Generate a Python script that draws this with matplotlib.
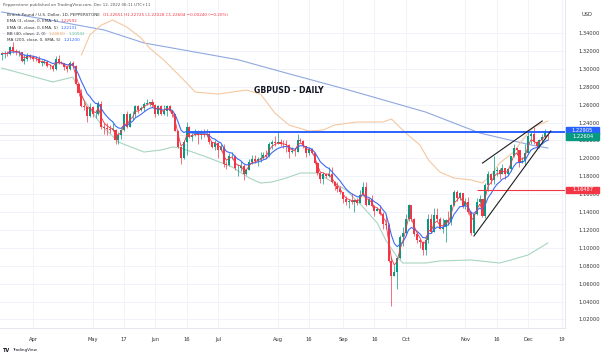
import numpy as np
import pandas as pd
import matplotlib.pyplot as plt
from matplotlib.patches import Rectangle
from matplotlib.transforms import blended_transform_factory

# GBPUSD daily bars (weekdays), 17 Mar 2022 -> 12 Dec 2022
start, end = '2022-03-17', '2022-12-12'

close = [
    1.3170, 1.3175, 1.3170, 1.3240, 1.3195, 1.3185, 1.3185, 1.3090, 1.3110, 1.3140, 1.3135,  # Mar
    1.3115, 1.3110, 1.3070, 1.3070, 1.3075, 1.3035, 1.3030, 1.3000, 1.3110, 1.3070, 1.3065,
    1.3015, 1.3000, 1.3070, 1.3030, 1.2835, 1.2725, 1.2585, 1.2575, 1.2475, 1.2570,          # Apr
    1.2490, 1.2495, 1.2610, 1.2355, 1.2335, 1.2330, 1.2320, 1.2320, 1.2200, 1.2260, 1.2315,
    1.2490, 1.2345, 1.2490, 1.2490, 1.2590, 1.2535, 1.2565, 1.2605, 1.2620, 1.2625, 1.2600,  # May
    1.2490, 1.2585, 1.2490, 1.2530, 1.2590, 1.2530, 1.2495, 1.2310, 1.2130, 1.2005, 1.2185,
    1.2350, 1.2235, 1.2265, 1.2275, 1.2260, 1.2270, 1.2265, 1.2270, 1.2185, 1.2125, 1.2175,  # Jun
    1.2095, 1.2125, 1.1940, 1.1920, 1.2025, 1.2030, 1.1890, 1.1890, 1.1915, 1.1825, 1.1870,
    1.1960, 1.1990, 1.1965, 1.1995, 1.2000, 1.2035, 1.2030, 1.2160, 1.2180, 1.2175,          # Jul
    1.2180, 1.2165, 1.2155, 1.2150, 1.2075, 1.2075, 1.2070, 1.2210, 1.2195, 1.2135, 1.2055,
    1.2100, 1.2060, 1.1945, 1.1835, 1.1765, 1.1830, 1.1805, 1.1830, 1.1735, 1.1690, 1.1655,
    1.1620,                                                                                  # Aug
    1.1540, 1.1515, 1.1525, 1.1515, 1.1530, 1.1505, 1.1585, 1.1680, 1.1480, 1.1540, 1.1470,
    1.1415, 1.1430, 1.1380, 1.1265, 1.1255, 1.0855, 1.0685, 1.0735, 1.0890, 1.1120, 1.1160,  # Sep
    1.1320, 1.1475, 1.1320, 1.1155, 1.1090, 1.1060, 1.0970, 1.1090, 1.1325, 1.1175, 1.1365,
    1.1320, 1.1210, 1.1235, 1.1310, 1.1285, 1.1475, 1.1620, 1.1560, 1.1615, 1.1465,          # Oct
    1.1510, 1.1395, 1.1160, 1.1375, 1.1515, 1.1545, 1.1355, 1.1705, 1.1830, 1.1760, 1.1855,
    1.1865, 1.1825, 1.1890, 1.1820, 1.1880, 1.2030, 1.2115, 1.2090, 1.1960, 1.1965, 1.2055,  # Nov
    1.2250, 1.2275, 1.2185, 1.2140, 1.2205, 1.2240, 1.2284, 1.2260,                          # Dec
]
high = [
    1.3185, 1.3200, 1.3200, 1.3250, 1.3300, 1.3225, 1.3215, 1.3190, 1.3165, 1.3175, 1.3170,
    1.3150, 1.3145, 1.3140, 1.3095, 1.3110, 1.3095, 1.3055, 1.3040, 1.3145, 1.3150, 1.3085,
    1.3060, 1.3030, 1.3090, 1.3090, 1.3045, 1.2845, 1.2775, 1.2625, 1.2580, 1.2615,
    1.2580, 1.2540, 1.2640, 1.2640, 1.2400, 1.2400, 1.2370, 1.2405, 1.2325, 1.2295, 1.2330,
    1.2500, 1.2525, 1.2510, 1.2525, 1.2600, 1.2600, 1.2590, 1.2625, 1.2665, 1.2630, 1.2665,
    1.2610, 1.2595, 1.2600, 1.2600, 1.2600, 1.2600, 1.2545, 1.2500, 1.2320, 1.2140, 1.2205,
    1.2405, 1.2360, 1.2285, 1.2325, 1.2320, 1.2315, 1.2325, 1.2330, 1.2290, 1.2185, 1.2200,
    1.2180, 1.2165, 1.2165, 1.1970, 1.2060, 1.2075, 1.2040, 1.1935, 1.1970, 1.1935, 1.1880,
    1.1990, 1.2035, 1.2040, 1.2010, 1.2065, 1.2065, 1.2090, 1.2180, 1.2200, 1.2245,
    1.2295, 1.2215, 1.2200, 1.2205, 1.2165, 1.2125, 1.2115, 1.2275, 1.2230, 1.2205, 1.2135,
    1.2125, 1.2120, 1.2065, 1.1960, 1.1840, 1.1850, 1.1840, 1.1900, 1.1900, 1.1750, 1.1730,
    1.1690,
    1.1620, 1.1575, 1.1550, 1.1610, 1.1540, 1.1560, 1.1650, 1.1735, 1.1740, 1.1560, 1.1595,
    1.1480, 1.1455, 1.1475, 1.1395, 1.1360, 1.1275, 1.0900, 1.0810, 1.0895, 1.1140, 1.1235,
    1.1380, 1.1495, 1.1475, 1.1335, 1.1180, 1.1110, 1.1075, 1.1115, 1.1380, 1.1380, 1.1440,
    1.1440, 1.1340, 1.1335, 1.1320, 1.1410, 1.1490, 1.1645, 1.1645, 1.1620, 1.1615,
    1.1555, 1.1565, 1.1410, 1.1380, 1.1555, 1.1590, 1.1550, 1.1720, 1.1855, 1.1830, 1.2030,
    1.1905, 1.1895, 1.1940, 1.1895, 1.1890, 1.2030, 1.2155, 1.2120, 1.2090, 1.2010, 1.2155,
    1.2310, 1.2310, 1.2345, 1.2195, 1.2220, 1.2270, 1.2325, 1.2273,
]
low = [
    1.3100, 1.3125, 1.3140, 1.3160, 1.3180, 1.3150, 1.3140, 1.3075, 1.3050, 1.3090, 1.3110,
    1.3085, 1.3090, 1.3060, 1.3030, 1.3050, 1.3015, 1.3000, 1.2975, 1.2985, 1.3055, 1.3050,
    1.2990, 1.2970, 1.2990, 1.3015, 1.2825, 1.2700, 1.2575, 1.2540, 1.2410, 1.2460,
    1.2460, 1.2445, 1.2480, 1.2330, 1.2275, 1.2260, 1.2280, 1.2300, 1.2165, 1.2155, 1.2215,
    1.2310, 1.2340, 1.2345, 1.2425, 1.2460, 1.2510, 1.2525, 1.2525, 1.2600, 1.2580, 1.2575,
    1.2460, 1.2480, 1.2480, 1.2480, 1.2470, 1.2520, 1.2460, 1.2300, 1.2110, 1.1935, 1.1990,
    1.2040, 1.2225, 1.2195, 1.2250, 1.2160, 1.2220, 1.2240, 1.2240, 1.2160, 1.2110, 1.2090,
    1.2000, 1.2080, 1.1900, 1.1880, 1.1915, 1.1990, 1.1875, 1.1805, 1.1855, 1.1760, 1.1810,
    1.1870, 1.1935, 1.1945, 1.1915, 1.1955, 1.1995, 1.2005, 1.2015, 1.2100, 1.2135,
    1.2165, 1.2140, 1.2120, 1.2065, 1.2005, 1.2055, 1.2030, 1.2070, 1.2170, 1.2110, 1.2015,
    1.2040, 1.2045, 1.1935, 1.1815, 1.1720, 1.1715, 1.1780, 1.1790, 1.1720, 1.1645, 1.1620,
    1.1600,
    1.1500, 1.1475, 1.1445, 1.1485, 1.1405, 1.1475, 1.1500, 1.1580, 1.1470, 1.1475, 1.1460,
    1.1350, 1.1410, 1.1365, 1.1215, 1.1210, 1.0840, 1.0350, 1.0680, 1.0540, 1.0880, 1.1025,
    1.1145, 1.1305, 1.1300, 1.1130, 1.1055, 1.1000, 1.0925, 1.0925, 1.1055, 1.1170, 1.1175,
    1.1300, 1.1205, 1.1170, 1.1060, 1.1255, 1.1255, 1.1465, 1.1525, 1.1535, 1.1445,
    1.1430, 1.1380, 1.1145, 1.1150, 1.1370, 1.1480, 1.1345, 1.1335, 1.1630, 1.1710, 1.1710,
    1.1800, 1.1765, 1.1825, 1.1765, 1.1815, 1.1860, 1.2015, 1.2035, 1.1900, 1.1950, 1.1910,
    1.2045, 1.2165, 1.2155, 1.2105, 1.2110, 1.2185, 1.2215, 1.2203,
]
first_open = 1.3155
last_open = 1.22651   # Monday gap open

# traced indicator lines (bar number from 17 Mar, price)
bb_upper_bar = [28, 31, 35, 39, 44, 49, 52, 57, 64, 68, 76, 86, 91, 96, 101, 108, 113,
                117, 125, 134, 137, 142, 147, 150, 154, 159, 165, 169, 172, 175, 180, 183, 187, 192]
bb_upper = [1.3154, 1.3378, 1.3489, 1.3545, 1.3467, 1.3344, 1.3232, 1.3098, 1.2875, 1.2741,
            1.2718, 1.2763, 1.2718, 1.2506, 1.2372, 1.2305, 1.2316, 1.2372, 1.2406, 1.2406,
            1.2439, 1.2283, 1.2149, 1.1981, 1.1847, 1.1780, 1.1758, 1.1724, 1.1813, 1.1947,
            1.2070, 1.2204, 1.2350, 1.2417]
bb_lower_bar = [0, 18, 25, 29, 35, 41, 50, 56, 60, 63, 72, 81, 87, 91, 95, 100, 105, 111,
                115, 121, 127, 132, 135, 139, 141, 149, 154, 165, 175, 179, 185, 192]
bb_lower = [1.3009, 1.2853, 1.2908, 1.2651, 1.2372, 1.2182, 1.2070, 1.2093, 1.2126, 1.2115,
            1.2015, 1.1903, 1.1780, 1.1724, 1.1735, 1.1780, 1.1836, 1.1836, 1.1758, 1.1646,
            1.1456, 1.1277, 1.1087, 1.0897, 1.0830, 1.0830, 1.0853, 1.0864, 1.0830, 1.0864,
            1.0920, 1.1054]
ma200_bar = [0, 17, 36, 50, 83, 100, 122, 149, 168, 186, 192]
ma200 = [1.3635, 1.3545, 1.3434, 1.3289, 1.3102, 1.2953, 1.2763, 1.2517, 1.2283, 1.2149, 1.2115]

# drawings
res_level = 1.22905
res_from = '2022-06-16'
sup_level = 1.16487
sup_from = '2022-11-07'
last_price = 1.22604
wedge_top = ([169, 190], [1.1947, 1.2417])
wedge_bot = ([166, 193], [1.1132, 1.2305])

tick_dates = ['2022-04-01', '2022-05-02', '2022-05-17', '2022-06-01', '2022-06-16',
              '2022-07-01', '2022-08-01', '2022-08-16', '2022-09-01', '2022-09-16',
              '2022-10-03', '2022-11-01', '2022-11-16', '2022-12-01', '2022-12-19']
tick_text = ['Apr', 'May', '17', 'Jun', '16', 'Jul', 'Aug', '16', 'Sep', '16', 'Oct',
             'Nov', '16', 'Dec', '19']

UP, DOWN = '#089981', '#f23645'
GREY = '#333333'

close = np.array(close)
high = np.array(high)
low = np.array(low)
opn = np.r_[first_open, close[:-1]]   # FX bars open at the previous close
opn[-1] = last_open
x = np.arange(len(close))

def bar_of(d):
    return np.busday_count(start, d)

ema3 = pd.Series(close).ewm(span=3, adjust=False).mean()
ema8 = pd.Series(close).ewm(span=8, adjust=False).mean()

W, H = 602, 356
fig = plt.figure(figsize=(W / 100, H / 100), dpi=100)
ax = fig.add_axes([0, 1 - 328 / H, 565 / W, 328 / H])
ax.set_xlim(-0.6, 198)
ax.set_ylim(1.0104, 1.3769)

# grid
yt = np.arange(1.02, 1.345, 0.02)
xt = [bar_of(d) for d in tick_dates]
for v in yt:
    ax.axhline(v, color='#f0f3fa', lw=0.7, zorder=0)
for v in xt:
    ax.axvline(v, color='#f0f3fa', lw=0.7, zorder=0)

# indicator lines
ax.plot(ma200_bar, ma200, color='#8fa8e0', lw=0.8, zorder=1)
ax.plot(bb_upper_bar, bb_upper, color='#f5c8a0', lw=0.8, zorder=1)
ax.plot(bb_lower_bar, bb_lower, color='#a8d5c0', lw=0.8, zorder=1)

# current price line (left part, the ray covers the rest)
ax.hlines(last_price, -1, bar_of(res_from), color='#d5d8df', lw=0.5, zorder=1)

# candles
up = close >= opn
col = np.where(up, UP, DOWN)
ax.vlines(x, low, high, colors=col, lw=0.5, zorder=2)
body_lo = np.minimum(opn, close)
body_h = np.maximum(np.abs(close - opn), 0.0004)
ax.bar(x, body_h, bottom=body_lo, width=0.72, color=col, lw=0, zorder=3)

ax.plot(x, ema8, color='#3d6bf2', lw=0.8, zorder=4)
ax.plot(x, ema3, color='#f23645', lw=0.6, zorder=4)

# levels and wedge
xr = ax.get_xlim()[1]
ax.hlines(res_level, bar_of(res_from), xr, color='#2962ff', lw=1.4, zorder=5)
ax.hlines(sup_level, bar_of(sup_from), xr, color='#f23645', lw=0.8, zorder=5)
ax.plot(*wedge_top, color='#1e1e1e', lw=0.8, zorder=5)
ax.plot(*wedge_bot, color='#1e1e1e', lw=0.8, zorder=5)

ax.text(101, 1.2763, 'GBPUSD - DAILY', fontsize=5.6, fontweight='bold',
        color='#131722', ha='center', va='center')

# axes
for s in ['top', 'left']:
    ax.spines[s].set_visible(False)
for s in ['right', 'bottom']:
    ax.spines[s].set_color('#e0e3eb')
    ax.spines[s].set_linewidth(0.6)
ax.yaxis.tick_right()
ax.set_yticks(yt)
ax.set_yticklabels([f'{v:.5f}' for v in yt])
ax.set_xticks(xt)
ax.set_xticklabels(tick_text)
ax.tick_params(axis='y', length=0, pad=9.5, labelsize=3.7, labelcolor=GREY)
ax.tick_params(axis='x', length=0, pad=6.5, labelsize=3.7, labelcolor=GREY)

# price tags on the scale
tr = blended_transform_factory(ax.transAxes, ax.transData)
for val, yc, c in [(res_level, 1.2310, '#2962ff'), (last_price, 1.2244, UP), (sup_level, sup_level, DOWN)]:
    ax.add_patch(Rectangle((1.002, yc - 0.0036), 0.058, 0.0072, transform=tr,
                           color=c, clip_on=False, zorder=6))
    ax.text(1.031, yc, f'{val:.5f}', transform=tr, fontsize=3.7, color='white',
            ha='center', va='center', zorder=7)

def ftext(px, py, s, **kw):
    return fig.text(px / W, 1 - py / H, s, va='center', **kw)

renderer = fig.canvas.get_renderer()

def legend_row(py, parts, size=3.0):
    px = 7
    for s, c in parts:
        t = ftext(px, py, s, fontsize=size, color=c)
        px = t.get_window_extent(renderer).x1 + 3

ftext(582, 14, 'USD', fontsize=3.7, color=GREY)
ftext(3, 5, 'Pepperstone published on TradingView.com, Dec 12, 2022 06:11 UTC+11',
      fontsize=2.9, color='#555555')
legend_row(15, [('British Pound / U.S. Dollar, 1D, PEPPERSTONE', GREY),
                ('O1.22651 H1.22725 L1.22028 C1.22604 \u22120.00240 (\u22120.20%)', DOWN)])
legend_row(21.5, [('EMA (3, close, 0, EMA, 5)', GREY), ('1.22592', DOWN)])
legend_row(28, [('EMA (8, close, 0, EMA, 5)', GREY), ('1.22131', '#2962ff')])
legend_row(34, [('BB (40, close, 2, 0)', GREY), ('1.24650', '#f0a060'), ('1.10541', '#5cb890')])
legend_row(40, [('MA (200, close, 0, SMA, 5)', GREY), ('1.21200', '#2962ff')])
ftext(3, 350, 'TV', fontsize=3.6, fontweight='bold', color='#131722')
ftext(12, 350, 'TradingView', fontsize=3.0, color='#131722')

fig.savefig('out.png', dpi=100)
